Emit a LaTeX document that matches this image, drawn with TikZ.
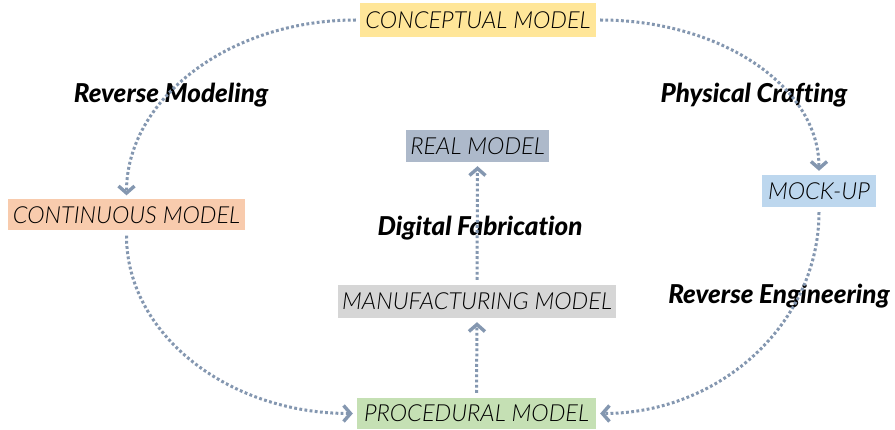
\documentclass[tikz,border=0pt]{standalone}
\usepackage{fontspec}
\setmainfont{Lato}
\newfontfamily\boxfont{Lato Light}
\newfontfamily\heavyfont[Ligatures=CommonOff]{Lato Black}
\usetikzlibrary{arrows.meta}
\definecolor{flow}{HTML}{8497B0}
\definecolor{cYellow}{HTML}{FFE699}
\definecolor{cSalmon}{HTML}{F8CBAD}
\definecolor{cBlue}{HTML}{BDD7EE}
\definecolor{cGrey}{HTML}{D6D6D6}
\definecolor{cGreen}{HTML}{C5E0B4}
\definecolor{cSlate}{HTML}{ADB9CA}
\begin{document}
\begin{tikzpicture}[x=1pt,y=1pt,
  modelbox/.style={inner sep=0pt, font=\boxfont\fontsize{23.5}{26}\selectfont\itshape, text=black},
  steplabel/.style={inner sep=0pt, font=\heavyfont\fontsize{26}{28}\selectfont\itshape},
  flowline/.style={draw=flow, line width=3pt, line cap=butt, dash pattern=on 2.8pt off 2.4pt,
    -{Straight Barb[length=7pt,width=16pt,line width=3.4pt,line join=miter]}}
]
\useasboundingbox (0,0) rectangle (895,429);
\fill[white] (0,0) rectangle (895,429);

% model boxes
\node[modelbox, fill=cYellow, minimum width=236pt, minimum height=34pt] (conc) at (478,409) {CONCEPTUAL MODEL};
\node[modelbox, fill=cSalmon, minimum width=237pt, minimum height=31pt] (cont) at (126.5,214) {CONTINUOUS MODEL};
\node[modelbox, fill=cBlue, minimum width=114pt, minimum height=32pt] (mock) at (819,238) {MOCK-UP};
\node[modelbox, fill=cGrey, minimum width=278pt, minimum height=33pt] (manu) at (477,127.5) {MANUFACTURING MODEL};
\node[modelbox, fill=cGreen, minimum width=239pt, minimum height=31pt] (proc) at (476.5,15.5) {PROCEDURAL MODEL};
\node[modelbox, fill=cSlate, minimum width=143pt, minimum height=32pt] (real) at (477.5,283) {REAL MODEL};

% step labels
\node[steplabel] (lrm) at (171,334) {Reverse Modeling};
\node[steplabel] (lpc) at (754,334) {Physical Crafting};
\node[steplabel] (ldf) at (480,201) {Digital Fabrication};
\node[steplabel] (lre) at (779,133) {Reverse Engineering};

% connectors
\draw[flowline] ([xshift=-4pt]conc.west) to[out=180, in=90, out looseness=1.13, in looseness=0.85] ([yshift=4pt]cont.north);
\draw[flowline] ([xshift=4pt]conc.east) to[out=0, in=90, out looseness=1.16, in looseness=0.81] ([yshift=4pt]mock.north);
\draw[flowline] ([yshift=-5pt]cont.south) to[out=-90, in=180, out looseness=0.87, in looseness=1.12] ([xshift=-4pt]proc.west);
\draw[flowline] ([yshift=-5pt]mock.south) to[out=-90, in=0, out looseness=0.95, in looseness=1.04] ([xshift=4pt]proc.east);
\draw[flowline] ([yshift=5pt]proc.north) -- ([yshift=-4pt]manu.south);
\draw[flowline] ([yshift=5pt]manu.north) -- ([yshift=-4pt]real.south);
\end{tikzpicture}
\end{document}
